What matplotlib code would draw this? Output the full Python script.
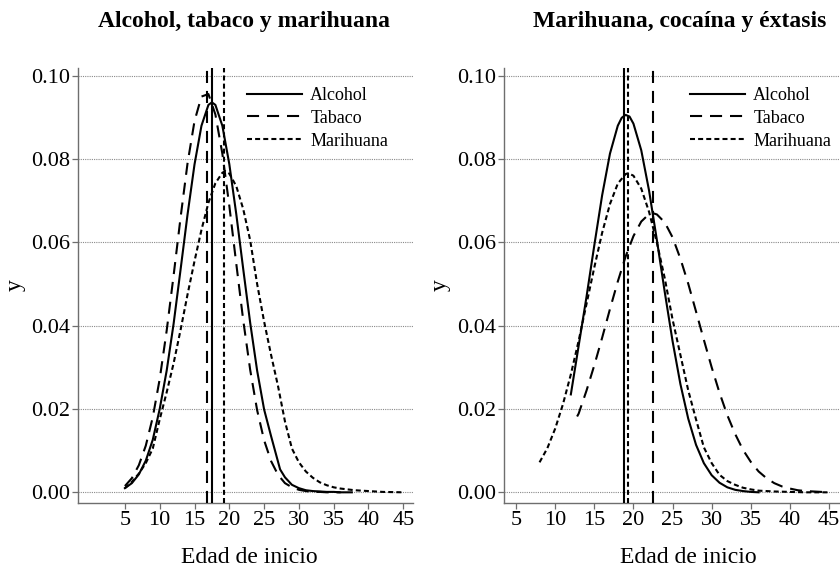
import matplotlib
matplotlib.use("Agg")
import matplotlib.pyplot as plt

plt.rcParams.update({
    "font.family": ["Liberation Serif", "DejaVu Serif"],
    "figure.dpi": 100,
    "savefig.dpi": 100,
})

SERIES = ["Alcohol", "Tabaco", "Marihuana"]

# --- left panel: Alcohol, tabaco y marihuana ---
left_alc_x = [5, 6, 7, 8, 9, 10, 11, 12, 13, 14, 15, 16, 17, 17.5, 18, 19, 20, 21, 22,
              23, 24, 25, 26, 27.3, 28, 29, 30, 31, 32, 33, 34, 35, 36, 37.6]
left_alc_y = [0.0010, 0.0022, 0.0043, 0.0076, 0.0126, 0.0200, 0.0292, 0.0405, 0.0535,
              0.0667, 0.0787, 0.0880, 0.0930, 0.0936, 0.0930, 0.0880, 0.0788, 0.0668,
              0.0536, 0.0407, 0.0292, 0.0199, 0.0135, 0.0055, 0.0036, 0.0018, 0.0010,
              0.0005, 0.0003, 0.0002, 0.0001, 0.0001, 0.0000, 0.0000]
left_tab_x = [5, 6, 7, 8, 9, 10, 11, 12, 13, 14, 15, 16, 17, 18, 19, 20, 21, 22, 23, 24,
              25, 26, 27, 28, 29, 30, 31, 32, 33, 34, 35, 36]
left_tab_y = [0.0015, 0.0034, 0.0065, 0.0112, 0.0180, 0.0272, 0.0388, 0.0521, 0.0660,
              0.0790, 0.0891, 0.0950, 0.0956, 0.0907, 0.0813, 0.0688, 0.0549, 0.0413,
              0.0294, 0.0197, 0.0125, 0.0075, 0.0042, 0.0022, 0.0012, 0.0006, 0.0003,
              0.0001, 0.0001, 0.0000, 0.0000, 0.0000]
left_mar_x = [5, 6, 7, 8, 9, 10, 11, 12, 13, 14, 15, 16, 17, 18, 19, 19.4, 20, 21, 22,
              23, 24, 25, 26, 27, 28, 29, 30, 31, 32, 33, 34, 35, 36, 38, 40, 42, 45]
left_mar_y = [0.0010, 0.0025, 0.0045, 0.0070, 0.0105, 0.0175, 0.0240, 0.0310, 0.0390,
              0.0475, 0.0555, 0.0630, 0.0695, 0.0742, 0.0767, 0.0771, 0.0765, 0.0735,
              0.0680, 0.0605, 0.0500, 0.0410, 0.0330, 0.0255, 0.0170, 0.0105, 0.0072,
              0.0050, 0.0035, 0.0024, 0.0017, 0.0012, 0.0009, 0.0005, 0.0003, 0.0001,
              0.0000]
left_means = [17.45, 16.74, 19.22]

# --- right panel: Marihuana, cocaína y éxtasis ---
right_alc_x = [12, 13, 14, 15, 16, 17, 18, 18.5, 19, 19.5, 20, 21, 22, 23, 24, 25, 26,
               27, 28, 29, 30, 31, 32, 33, 34, 35, 36]
right_alc_y = [0.0235, 0.0352, 0.0469, 0.0593, 0.0713, 0.0813, 0.0880, 0.0899, 0.0906,
               0.0902, 0.0885, 0.0821, 0.0724, 0.0605, 0.0481, 0.0363, 0.0260, 0.0177,
               0.0114, 0.0070, 0.0041, 0.0023, 0.0012, 0.0006, 0.0003, 0.0001, 0.0000]
right_tab_x = [12.8, 13, 14, 15, 16, 17, 18, 19, 20, 21, 22, 22.5, 23, 24, 25, 26, 27,
               28, 29, 30, 31, 32, 33, 34, 35, 36, 37, 38, 39, 40, 41, 42, 43, 44, 45]
right_tab_y = [0.0182, 0.0189, 0.0244, 0.0305, 0.0371, 0.0440, 0.0506, 0.0566, 0.0615,
               0.0650, 0.0668, 0.0670, 0.0667, 0.0648, 0.0612, 0.0561, 0.0501, 0.0434,
               0.0366, 0.0300, 0.0239, 0.0185, 0.0140, 0.0102, 0.0073, 0.0050, 0.0034,
               0.0022, 0.0014, 0.0009, 0.0005, 0.0003, 0.0002, 0.0001, 0.0000]
right_mar_x = [8, 9, 10, 11, 12, 13, 14, 15, 16, 17, 18, 19, 19.35, 20, 21, 22, 23, 24,
               25, 26, 27, 28, 29, 30, 31, 32, 33, 34, 35, 36, 38, 40, 42, 45]
right_mar_y = [0.0072, 0.0106, 0.0153, 0.0212, 0.0283, 0.0364, 0.0452, 0.0540, 0.0623,
               0.0692, 0.0741, 0.0764, 0.0766, 0.0760, 0.0729, 0.0673, 0.0599, 0.0514,
               0.0415, 0.0330, 0.0245, 0.0175, 0.0108, 0.0070, 0.0042, 0.0027, 0.0018,
               0.0011, 0.0007, 0.0004, 0.0002, 0.0001, 0.0000, 0.0000]
right_means = [18.8, 22.53, 19.26]

y_ticks = [0.00, 0.02, 0.04, 0.06, 0.08, 0.10]
x_ticks = [5, 10, 15, 20, 25, 30, 35, 40, 45]

STYLES = ["-", (0, (5.8, 3.8)), (0, (2.4, 1.5))]
AXIS_COLOR = "#6e6e6e"

panels = [
    dict(title="Alcohol, tabaco y marihuana",
         curves=[(left_alc_x, left_alc_y), (left_tab_x, left_tab_y), (left_mar_x, left_mar_y)],
         means=left_means, rect=[0.0932, 0.1144, 0.3985, 0.766], xlim=(-1.7, 46.4),
         title_x=243.5, label_x=249, ylab_x=15, leg_x=247),
    dict(title="Marihuana, cocaína y éxtasis",
         curves=[(right_alc_x, right_alc_y), (right_tab_x, right_tab_y), (right_mar_x, right_mar_y)],
         means=right_means, rect=[0.6004, 0.1144, 0.3996, 0.766], xlim=(3.5, 46.4),
         title_x=680, label_x=688, ylab_x=440, leg_x=690),
]

W, H = 840, 568
fig = plt.figure(figsize=(8.4, 5.68))

for p in panels:
    ax = fig.add_axes(p["rect"])
    for y in y_ticks:
        ax.axhline(y, color="#8a8a8a", lw=0.8, ls=(0, (1, 1)), zorder=0)
    handles = []
    for (xs, ys), name, st in zip(p["curves"], SERIES, STYLES):
        h, = ax.plot(xs, ys, color="black", lw=1.5, ls=st, label=name, zorder=3)
        handles.append(h)
    for m, st in zip(p["means"], STYLES):
        ax.axvline(m, color="black", lw=1.5, ls=st, zorder=3)

    ax.set_xlim(*p["xlim"])
    ax.set_ylim(-0.00257, 0.10187)
    ax.set_xticks(x_ticks)
    ax.set_yticks(y_ticks)
    ax.set_yticklabels([f"{v:.2f}" for v in y_ticks])
    for side in ("top", "right"):
        ax.spines[side].set_visible(False)
    for side in ("left", "bottom"):
        ax.spines[side].set_color(AXIS_COLOR)
        ax.spines[side].set_linewidth(1.0)
    ax.tick_params(direction="out", length=4.6, width=0.9, color=AXIS_COLOR,
                   labelsize=16, pad=1)

    ax.legend(handles=handles, loc="upper left",
              bbox_to_anchor=(p["leg_x"] / W, 1 - 87 / H), bbox_transform=fig.transFigure,
              frameon=False, fontsize=13, handlelength=3.05, handletextpad=0.45,
              labelspacing=0.32, borderpad=0, borderaxespad=0)

    fig.text(p["title_x"] / W, 1 - 22 / H, p["title"], ha="center", va="center",
             fontsize=17, fontweight="bold")
    fig.text(p["label_x"] / W, 5 / H, "Edad de inicio", ha="center", va="baseline",
             fontsize=17)
    fig.text(p["ylab_x"] / W, 1 - 285 / H, "y", ha="center", va="center",
             rotation=90, fontsize=17)

fig.savefig("out.png")
